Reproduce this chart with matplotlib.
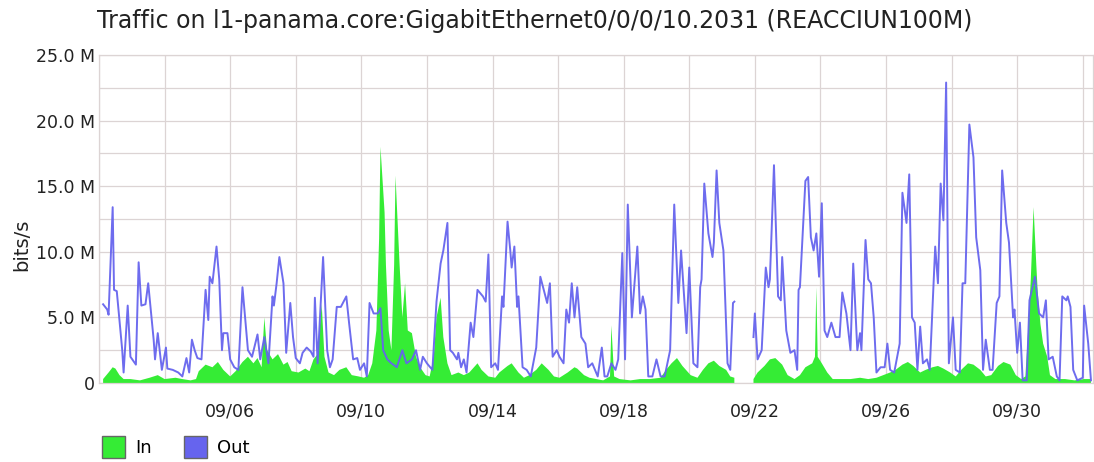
import numpy as np
import pandas as pd
import matplotlib
matplotlib.use("Agg")
import matplotlib.pyplot as plt
import matplotlib.dates as mdates
from matplotlib.ticker import MultipleLocator, FuncFormatter
from matplotlib.patches import Patch

title = "Traffic on l1-panama.core:GigabitEthernet0/0/0/10.2031 (REACCIUN100M)"
start = pd.Timestamp("2023-09-02 00:00")
end_hours = 727.5

# hours since 09/02 00:00, traffic in Mbit/s (nan = missing samples)
out_hours = [3, 6, 7, 10, 11, 13, 17, 18, 21, 23, 27, 29, 31, 34, 36, 40, 41, 43, 46, 49,
             50, 54, 58, 61, 64, 66, 68, 70, 72, 75, 78, 80, 81, 83, 86, 88, 90, 91, 94, 96,
             99, 102, 105, 109, 112, 116, 118, 121, 124, 127, 128, 130, 132, 135, 137, 140, 142, 144, 147, 149,
             152, 155, 157, 158, 160, 164, 167, 169, 171, 174, 177, 181, 183, 186, 189, 191, 194, 196, 198, 201,
             204, 206, 208, 211, 214, 218, 222, 225, 229, 232, 235, 237, 240, 244, 247, 250, 252, 255, 257, 259,
             262, 263, 265, 267, 269, 272, 274, 277, 281, 283, 285, 287, 290, 292, 295, 296, 299, 301, 302, 304,
             306, 307, 310, 313, 316, 320, 323, 325, 328, 330, 332, 335, 337, 340, 342, 344, 346, 348, 350, 353,
             356, 358, 361, 363, 365, 368, 370, 372, 375, 378, 380, 383, 385, 387, 390, 394, 396, 398, 400, 402,
             405, 408, 411, 414, 418, 421, 424, 426, 430, 432, 435, 438, 440, 441, 443, 446, 449, 450, 452, 454,
             457, 460, 462, 464, 465, 472, 479, 480, 482, 485, 488, 490, 491, 494, 497, 499, 500, 503, 506, 509,
             511, 512, 513, 517, 519, 521, 523, 525, 527, 529, 531, 533, 536, 539, 542, 544, 547, 550, 552, 555,
             557, 558, 561, 563, 565, 567, 569, 572, 575, 577, 579, 582, 586, 588, 591, 593, 595, 597, 599, 601,
             603, 606, 608, 612, 614, 616, 618, 620, 622, 625, 627, 630, 632, 634, 637, 640, 642, 645, 647, 649,
             652, 654, 657, 659, 661, 664, 666, 669, 670, 672, 674, 676, 679, 681, 685, 688, 691, 693, 695, 698,
             701, 703, 705, 708, 709, 711, 713, 716, 720, 721, 724, 726]
out_mbps = [6.0, 5.6, 5.2, 13.4, 7.1, 7.0, 2.5, 0.8, 5.9, 2.0, 1.4, 9.2, 5.9, 6.0, 7.6, 3.3, 1.8, 3.8, 1.0, 2.7,
            1.1, 1.0, 0.8, 0.5, 1.9, 0.8, 3.3, 2.5, 1.9, 1.8, 7.1, 4.8, 8.1, 7.6, 10.4, 7.9, 2.5, 3.8, 3.8, 1.8,
            1.2, 1.0, 7.3, 2.5, 2.0, 3.7, 1.8, 3.5, 1.5, 6.6, 5.9, 7.6, 9.6, 7.6, 2.3, 6.1, 3.5, 1.9, 1.5, 2.3,
            2.7, 2.4, 2.0, 6.5, 1.5, 9.6, 2.5, 1.2, 1.8, 5.8, 5.8, 6.6, 4.6, 1.8, 1.9, 1.0, 1.5, 0.5, 6.1, 5.3,
            5.3, 5.7, 2.5, 1.8, 1.5, 1.2, 2.5, 1.5, 1.8, 2.5, 1.0, 2.0, 1.5, 1.0, 6.2, 9.1, 10.1, 12.2, 2.5, 2.3,
            1.8, 2.3, 1.2, 1.8, 0.8, 4.6, 3.5, 7.1, 6.6, 6.2, 9.8, 1.2, 1.5, 1.0, 6.6, 5.8, 12.3, 10.1, 8.8, 10.4,
            5.8, 6.6, 1.2, 1.0, 0.5, 2.7, 8.1, 7.3, 6.1, 7.6, 2.0, 2.5, 2.0, 1.5, 5.6, 4.6, 7.6, 5.0, 7.3, 3.5,
            3.0, 1.2, 1.5, 1.0, 0.5, 2.7, 0.5, 0.5, 1.5, 1.0, 1.8, 9.9, 1.8, 13.6, 5.0, 10.4, 5.3, 6.6, 5.6, 0.5,
            0.5, 1.8, 0.5, 0.5, 2.5, 13.6, 6.1, 10.1, 3.8, 8.8, 1.5, 1.2, 7.3, 7.9, 15.2, 11.4, 9.6, 10.7, 16.2, 12.2,
            10.1, 1.5, 1.0, 6.1, 6.2, np.nan, 3.5, 5.3, 1.8, 2.5, 8.8, 7.3, 7.9, 16.6, 6.6, 6.3, 9.6, 4.0, 2.3, 2.5,
            1.0, 7.1, 7.3, 15.4, 15.7, 11.1, 10.1, 11.4, 8.1, 13.7, 4.0, 3.5, 4.6, 3.5, 3.5, 6.9, 5.3, 2.5, 9.1, 2.5,
            3.8, 2.5, 10.9, 7.9, 7.6, 5.0, 0.8, 1.2, 1.2, 3.0, 1.0, 0.8, 3.0, 14.5, 12.2, 15.9, 5.0, 4.6, 1.0, 4.3,
            1.5, 1.8, 1.0, 10.4, 7.6, 15.2, 12.4, 22.9, 1.5, 5.0, 1.0, 0.8, 7.6, 7.6, 19.7, 17.2, 11.1, 8.6, 1.0, 3.3,
            1.0, 1.0, 6.1, 6.6, 16.2, 12.2, 10.7, 5.0, 5.6, 2.3, 4.6, 0.2, 0.2, 6.3, 8.1, 5.3, 5.0, 6.3, 1.8, 2.0,
            0.5, 0.2, 6.6, 6.3, 6.6, 5.8, 1.0, 0.2, 0.4, 5.9, 3.0, 0.2]

in_hours = [3, 7, 10, 12, 15, 18, 23, 30, 37, 43, 48, 56, 61, 67, 71, 73, 78, 83, 87, 91,
            96, 100, 105, 109, 113, 116, 119, 121, 123, 127, 131, 135, 138, 141, 146, 151, 154, 157, 160, 163,
            165, 168, 172, 176, 181, 185, 190, 194, 197, 200, 203, 205, 206, 209, 210, 212, 214, 216, 217, 220,
            222, 224, 226, 229, 232, 235, 239, 242, 245, 247, 250, 252, 255, 258, 263, 267, 271, 277, 280, 285,
            290, 293, 299, 302, 307, 311, 315, 320, 324, 329, 333, 337, 343, 348, 350, 355, 359, 364, 369, 374,
            375, 377, 381, 389, 396, 403, 411, 415, 419, 423, 427, 433, 438, 442, 446, 450, 454, 459, 462, 465,
            472, 479, 482, 487, 491, 495, 500, 504, 509, 513, 517, 522, 524, 525, 526, 529, 533, 537, 542, 550,
            557, 563, 569, 574, 579, 583, 588, 592, 596, 601, 605, 610, 614, 618, 623, 627, 631, 636, 640, 645,
            649, 653, 658, 662, 667, 671, 675, 678, 680, 682, 684, 686, 687, 689, 691, 694, 696, 700, 707, 714,
            721, 726]
in_mbps = [0.3, 0.8, 1.2, 1.1, 0.6, 0.3, 0.3, 0.2, 0.4, 0.6, 0.3, 0.4, 0.3, 0.2, 0.3, 0.9, 1.4, 1.2, 1.6, 1.0,
           0.5, 0.9, 1.6, 2.0, 1.5, 1.9, 1.2, 5.0, 2.5, 1.8, 2.2, 1.4, 1.6, 0.9, 0.8, 1.1, 0.9, 1.8, 2.2, 6.0,
           2.0, 0.8, 0.6, 1.0, 1.2, 0.6, 0.5, 0.4, 0.6, 1.5, 4.0, 11.0, 18.0, 13.0, 9.0, 4.0, 2.5, 9.0, 15.8, 9.0,
           5.0, 7.6, 4.0, 3.8, 2.0, 1.2, 0.6, 0.5, 2.0, 5.0, 6.5, 3.5, 1.5, 0.6, 0.8, 0.6, 0.8, 1.5, 1.0, 0.5,
           0.4, 0.8, 1.3, 1.5, 0.8, 0.4, 0.6, 1.0, 1.5, 1.0, 0.5, 0.4, 0.8, 1.2, 1.1, 0.6, 0.4, 0.3, 0.2, 0.5,
           4.4, 0.5, 0.3, 0.2, 0.3, 0.3, 0.4, 1.0, 1.5, 1.9, 1.3, 0.6, 0.4, 1.0, 1.5, 1.7, 1.3, 1.0, 0.5, 0.4,
           np.nan, 0.3, 0.8, 1.3, 1.8, 1.9, 1.4, 0.6, 0.3, 0.6, 1.2, 1.5, 2.0, 7.3, 2.0, 1.5, 0.8, 0.3, 0.3, 0.3,
           0.4, 0.3, 0.4, 0.6, 0.8, 1.0, 1.4, 1.6, 1.3, 0.8, 1.0, 1.2, 1.3, 1.1, 0.8, 0.5, 1.0, 1.5, 1.4, 1.0,
           0.5, 0.6, 1.3, 1.6, 1.4, 0.6, 0.3, 0.5, 4.0, 8.0, 13.4, 9.0, 7.0, 4.5, 3.0, 2.0, 0.6, 0.3, 0.3, 0.2,
           0.3, 0.3]

in_color = "#35ec35"
out_color = "#6664ee"
grid_color = "#dcd4d4"

out_t = (start + pd.to_timedelta(out_hours, unit="h")).to_numpy()
in_t = (start + pd.to_timedelta(in_hours, unit="h")).to_numpy()

fig = plt.figure(figsize=(10.94, 4.62), dpi=100)
ax = fig.add_axes([0.0905, 0.171, 0.9086, 0.710])

ax.fill_between(in_t, 0, in_mbps, color=in_color, lw=0, zorder=2)
ax.plot(out_t, out_mbps, color=out_color, lw=1.4, alpha=0.95, zorder=3)

ax.set_xlim(start, start + pd.Timedelta(hours=end_hours))
ax.set_ylim(0, 25)

ax.xaxis.set_major_locator(mdates.DayLocator(bymonthday=[6, 10, 14, 18, 22, 26, 30]))
ax.xaxis.set_major_formatter(mdates.DateFormatter("%m/%d"))
ax.xaxis.set_minor_locator(mdates.DayLocator(bymonthday=range(2, 32, 2)))
ax.yaxis.set_major_locator(MultipleLocator(5))
ax.yaxis.set_minor_locator(MultipleLocator(2.5))
ax.yaxis.set_major_formatter(FuncFormatter(lambda v, p: "0" if v == 0 else f"{v:.1f} M"))

ax.grid(which="both", color=grid_color, lw=0.9, zorder=0)
ax.set_axisbelow(True)
for s in ax.spines.values():
    s.set_color(grid_color)
    s.set_linewidth(0.9)

ax.tick_params(which="both", length=0, labelsize=12.5, colors="#222222")
ax.tick_params(axis="x", pad=14)
ax.tick_params(axis="y", pad=3)

fig.text(97 / 1094, 1 - 21 / 462, title, ha="left", va="center", fontsize=17, color="#222222")
fig.text(22 / 1094, 1 - 245 / 462, "bits/s", rotation=90, ha="center", va="center",
         fontsize=14, color="#222222")

handles = [Patch(facecolor=in_color, edgecolor="#666666"),
           Patch(facecolor=out_color, edgecolor="#666666")]
fig.legend(handles, ["In", "Out"], loc="center left", bbox_to_anchor=(102 / 1094, 1 - 447 / 462),
           ncol=2, frameon=False, fontsize=13, handlelength=1.3, handleheight=1.5,
           handletextpad=0.55, columnspacing=1.75, borderpad=0, borderaxespad=0)

fig.savefig("out.png", dpi=100)
